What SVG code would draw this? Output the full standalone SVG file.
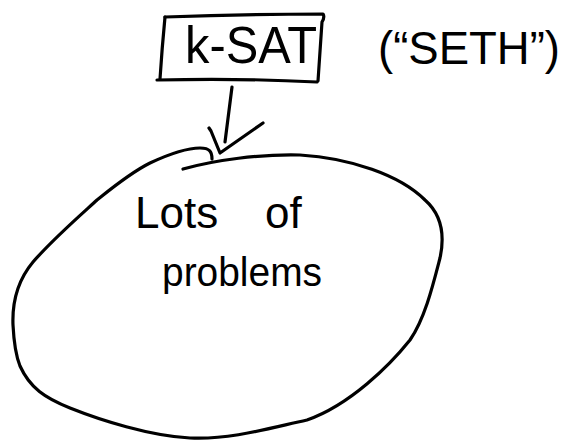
<svg xmlns="http://www.w3.org/2000/svg" width="564" height="440" viewBox="0 0 564 440">
<style>
.ink{fill:none;stroke:#000;stroke-width:3.2;stroke-linecap:round;stroke-linejoin:round}
.t{font-family:"Liberation Sans",Arial,sans-serif;fill:#000}
</style>
<rect width="564" height="440" fill="#fff"/>
<g id="node-ksat">
<path class="ink" d="M165,17 Q245,14 323,14 Q325,17 322,22 Q320,50 318,81"/>
<path class="ink" d="M165,17 Q162,48 160,79"/>
<path class="ink" d="M157,80 Q240,78 317,82"/>
<text class="t" x="185" y="63" font-size="52" textLength="132" lengthAdjust="spacingAndGlyphs">k-SAT</text>
</g>
<g id="node-seth">
<text class="t" x="378" y="64" font-size="46" textLength="182" lengthAdjust="spacingAndGlyphs">(“SETH”)</text>
</g>
<g id="node-problems">
<path class="ink" d="M212,159 C212,152 210,148 200,148 C185,148 165,156 150,163 C130,173 112,188 97,200 C75,220 52,240 33,262 C18,280 12,300 13,325 C14,345 16,356 20,366 C30,388 45,398 70,408 C100,420 150,436 190,438 C230,440 270,428 307,420 C350,405 390,365 410,340 C425,318 433,285 440,258 C445,235 442,215 425,200 C400,175 350,158 300,155 C260,154 215,160 183,169"/>
<text class="t" x="135" y="228" font-size="44">Lots <tspan x="265">of</tspan></text>
<text class="t" x="162" y="286" font-size="40" textLength="160" lengthAdjust="spacingAndGlyphs">problems</text>
</g>
<g id="connectors">
<path class="ink" d="M232,87 L225,142"/>
<path class="ink" d="M209,128 L211,131 L220,153 L263,123"/>
</g>
</svg>
